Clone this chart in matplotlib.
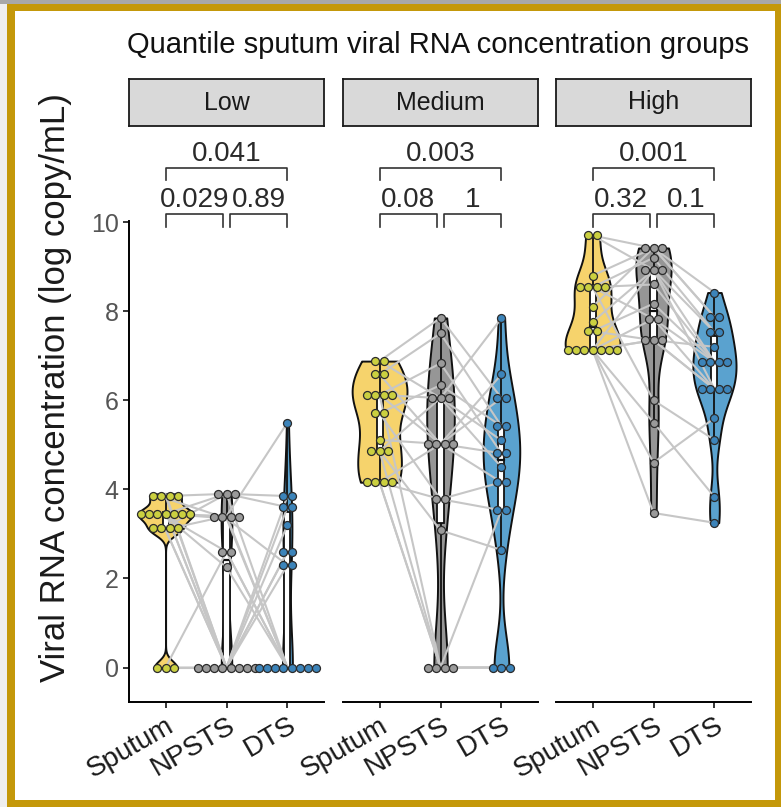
import numpy as np
import matplotlib.pyplot as plt
from matplotlib.patches import Rectangle
from matplotlib.transforms import ScaledTranslation

plt.rcParams['font.family'] = ['Liberation Sans', 'DejaVu Sans']

samples = ['Sputum', 'NPSTS', 'DTS']
groups = ['Low', 'Medium', 'High']

# viral load, log copy/mL; same patient order within a group
low_sputum = [3.85, 3.85, 3.8, 3.9, 3.45, 3.45, 3.5, 3.4, 3.45, 3.5, 3.4, 3.1, 3.1, 3.15, 3.1, 0, 0, 0]
low_npsts = [3.9, 0, 3.35, 0, 3.9, 3.4, 0, 2.6, 3.35, 0, 2.25, 3.4, 0, 3.9, 0, 0, 2.6, 0]
low_dts = [0, 3.85, 0, 2.6, 3.6, 0, 3.2, 0, 2.3, 3.6, 0, 5.5, 0, 3.85, 2.3, 2.6, 0, 0]

med_sputum = [6.88, 6.88, 6.58, 6.58, 6.12, 6.12, 6.12, 6.12, 5.71, 5.71, 5.11, 4.86, 4.86, 4.86, 4.16, 4.16, 4.16, 4.16]
med_npsts = [7.85, 6.05, 7.5, 5.02, 6.83, 6.05, 0, 5.02, 6.34, 3.78, 5.02, 6.05, 0, 3.08, 5.02, 0, 3.78, 0]
med_dts = [6.05, 7.84, 5.42, 6.58, 4.81, 5.1, 0, 4.16, 5.42, 3.53, 6.05, 4.5, 0, 2.64, 4.81, 3.53, 4.16, 0]

high_sputum = [9.7, 9.7, 8.8, 8.54, 8.54, 8.54, 8.54, 8.1, 7.76, 7.55, 7.55, 7.13, 7.13, 7.13, 7.13, 7.13, 7.13, 7.13]
high_npsts = [9.42, 8.93, 9.42, 7.83, 9.2, 8.6, 6.0, 9.42, 8.93, 7.35, 8.17, 5.5, 3.47, 7.35, 8.93, 4.6, 7.83, 7.35]
high_dts = [7.87, 6.86, 8.42, 6.25, 7.53, 6.86, 5.11, 7.87, 6.25, 7.2, 6.86, 3.83, 3.25, 6.25, 7.53, 5.6, 6.86, 6.25]

# p-values: Sputum-NPSTS, NPSTS-DTS, Sputum-DTS
low_p = ['0.029', '0.89', '0.041']
med_p = ['0.08', '1', '0.003']
high_p = ['0.32', '0.1', '0.001']

panel_data = [[low_sputum, low_npsts, low_dts],
              [med_sputum, med_npsts, med_dts],
              [high_sputum, high_npsts, high_dts]]
panel_p = [low_p, med_p, high_p]

fill_cols = ['#F6D36C', '#969696', '#5AA2CF']
dot_cols = ['#CBD040', '#9A9A9A', '#3C84BA']

W, H = 781, 807
fig = plt.figure(figsize=(W / 100, H / 100), dpi=100)


def px_box(x0, y0, x1, y1):
    return [x0 / W, 1 - y1 / H, (x1 - x0) / W, (y1 - y0) / H]


def nrd0(x):
    hi = np.std(x, ddof=1)
    q75, q25 = np.percentile(x, [75, 25])
    lo = min(hi, (q75 - q25) / 1.34)
    if lo == 0:
        lo = hi if hi > 0 else 1.0
    return 0.9 * lo * len(x) ** -0.2


def density(x, grid):
    bw = nrd0(x)
    z = (grid[:, None] - x[None, :]) / bw
    return np.exp(-0.5 * z ** 2).sum(1) / (len(x) * bw * np.sqrt(2 * np.pi))


def dot_bins(vals, bw):
    v = np.sort(vals)
    out = []
    i = 0
    while i < len(v):
        j = i
        while j + 1 < len(v) and v[j + 1] < v[i] + bw:
            j += 1
        out.append(((v[i] + v[j]) / 2, j - i + 1))
        i = j + 1
    return out


panel_x = [(129, 324), (343, 538), (556, 751)]
top_px, bot_px = 220.8, 702
ylo, yhi = -0.774, 10.03
axes = []
for k, g in enumerate(groups):
    x0, x1 = panel_x[k]
    ax = fig.add_axes(px_box(x0, top_px, x1, bot_px))
    axes.append(ax)
    data = [np.asarray(d, float) for d in panel_data[k]]

    # violins (area scaled within the panel, trimmed)
    grids = [np.linspace(d.min(), d.max(), 512) for d in data]
    dens = [density(d, gr) for d, gr in zip(data, grids)]
    dmax = max(dd.max() for dd in dens)
    for i, (gr, dd) in enumerate(zip(grids, dens)):
        hw = 0.45 * dd / dmax
        ax.fill_betweenx(gr, i + 1 - hw, i + 1 + hw, facecolor=fill_cols[i],
                         edgecolor='#111111', lw=1.4, zorder=1)

    # narrow boxplots
    for i, d in enumerate(data):
        q1, med, q3 = np.percentile(d, [25, 50, 75])
        iqr = q3 - q1
        wlo = d[d >= q1 - 1.5 * iqr].min()
        whi = d[d <= q3 + 1.5 * iqr].max()
        c = i + 1
        ax.plot([c, c], [wlo, q1], color='#111111', lw=1.3, zorder=2)
        ax.plot([c, c], [q3, whi], color='#111111', lw=1.3, zorder=2)
        ax.add_patch(Rectangle((c - 0.05, q1), 0.1, q3 - q1, facecolor='white',
                               edgecolor='#111111', lw=1.3, zorder=2))
        ax.plot([c - 0.05, c + 0.05], [med, med], color='#111111', lw=1.6, zorder=2)

    # paired lines per patient
    for s, n, d in zip(*data):
        ax.plot([1, 2, 3], [s, n, d], color='#C6C6C6', lw=1.5, zorder=3)

    # dot plots
    dx = 8.2 / ((x1 - x0) / 3.2)
    for i, d in enumerate(data):
        xs, ys = [], []
        for yc, cnt in dot_bins(d, 0.18):
            xs.extend(i + 1 + (np.arange(cnt) - (cnt - 1) / 2) * dx)
            ys.extend([yc] * cnt)
        ax.scatter(xs, ys, s=33, facecolor=dot_cols[i], edgecolor='#2b2b2b',
                   lw=0.9, zorder=4)

    # comparison brackets
    p = panel_p[k]
    bcol = '#333333'
    for (a, b), lab, yb, yt in [((1, 1.94), p[0], 10.18, 9.89),
                                ((2.06, 3), p[1], 10.18, 9.89),
                                ((1, 3), p[2], 11.21, 10.94)]:
        ax.plot([a, a, b, b], [yt, yb, yb, yt], color=bcol, lw=1.2, clip_on=False)
        ax.text((a + b) / 2, yb + 0.17, lab, ha='center', va='baseline',
                fontsize=20, color='#2a2a2a', clip_on=False)

    ax.set_xlim(0.4, 3.6)
    ax.set_ylim(ylo, yhi)
    ax.set_xticks([1, 2, 3])
    ax.set_xticklabels(samples, rotation=30, ha='right', rotation_mode='anchor',
                       fontsize=20, color='#1a1a1a')
    for lbl in ax.get_xticklabels():
        lbl.set_transform(lbl.get_transform() + ScaledTranslation(0.1, 0, fig.dpi_scale_trans))
    ax.tick_params(axis='x', length=4.5, width=1.1, pad=3)
    for side in ['top', 'right']:
        ax.spines[side].set_visible(False)
    ax.spines['bottom'].set_linewidth(1.4)
    if k == 0:
        ax.spines['left'].set_linewidth(1.4)
        ax.set_yticks([0, 2, 4, 6, 8, 10])
        ax.tick_params(axis='y', length=4.5, width=1.1, pad=3, labelsize=18,
                       labelcolor='#555555')
    else:
        ax.spines['left'].set_visible(False)
        ax.tick_params(axis='y', left=False, labelleft=False)

    # facet strip
    sax = fig.add_axes(px_box(x0, 79, x1, 126))
    sax.set_facecolor('#D9D9D9')
    sax.set_xticks([])
    sax.set_yticks([])
    for sp in sax.spines.values():
        sp.set_linewidth(1.3)
        sp.set_color('#1a1a1a')
    sax.text(0.5, 0.5, g, ha='center', va='center', fontsize=18,
             color='#1a1a1a', transform=sax.transAxes)

fig.text(438 / W, 1 - 45 / H, 'Quantile sputum viral RNA concentration groups',
         ha='center', va='center', fontsize=21, color='#111111')
fig.text(56 / W, 1 - 388 / H, 'Viral RNA concentration (log copy/mL)',
         ha='center', va='center', rotation=90, fontsize=25, color='#1a1a1a')

# frame around the figure
gold = '#C4980A'
for x0, y0, x1, y1, c in [(0, 0, W, 4, '#A8A8A8'), (0, 4, 7.5, H, '#EFEFEF'),
                          (7.5, 4, W, 11, gold), (7.5, 4, 15, H, gold),
                          (775, 4, W, H, gold), (7.5, 800, W, H, gold)]:
    fig.patches.append(Rectangle((x0 / W, 1 - y1 / H), (x1 - x0) / W, (y1 - y0) / H,
                                 transform=fig.transFigure, facecolor=c,
                                 edgecolor='none', zorder=10))

fig.savefig('out.png', dpi=100)
